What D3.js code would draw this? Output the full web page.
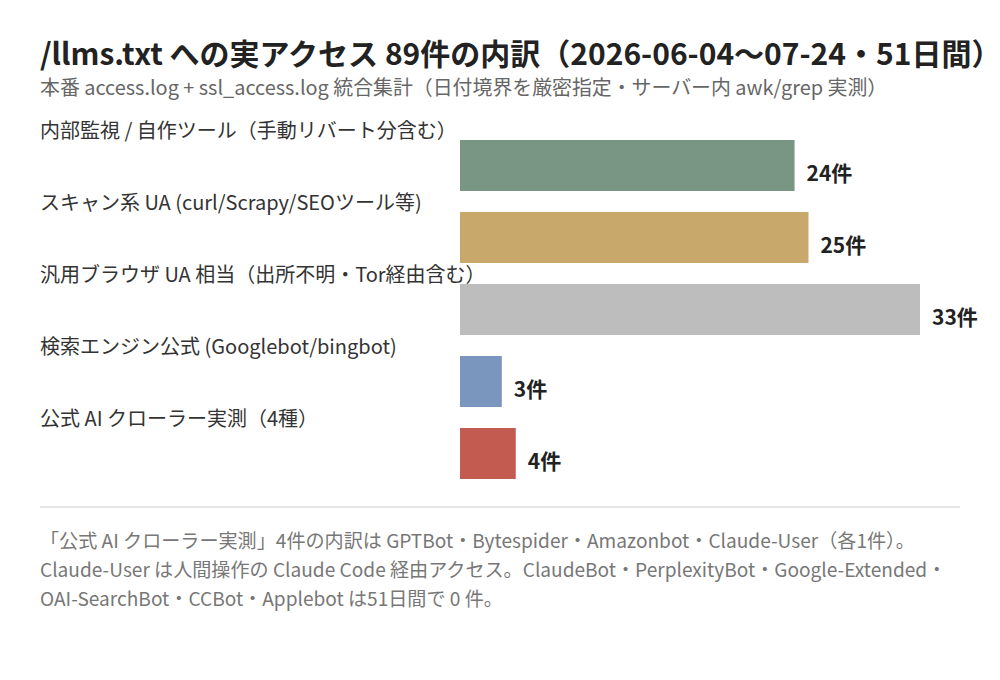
<!DOCTYPE html>
<html>
<head>
<meta charset="utf-8">
<script src="https://cdn.jsdelivr.net/npm/d3@7"></script>
<style>
  body { margin: 0; background: #fff; }
  svg text { font-family: "Noto Sans CJK JP", "Noto Sans", sans-serif; }
</style>
</head>
<body>
<div id="chart"></div>
<script>
// data
var categories = [
  "内部監視 / 自作ツール（手動リバート分含む）",
  "スキャン系 UA (curl/Scrapy/SEOツール等)",
  "汎用ブラウザ UA 相当（出所不明・Tor経由含む）",
  "検索エンジン公式 (Googlebot/bingbot)",
  "公式 AI クローラー実測（4種）"
];
var counts = [24, 25, 33, 3, 4];
var barColors = ["#789683", "#c8a96b", "#bdbdbd", "#7a96bf", "#c45b51"];
var valueSuffix = "件";

var title = "/llms.txt への実アクセス 89件の内訳（2026-06-04〜07-24・51日間）";
var subtitle = "本番 access.log + ssl_access.log 統合集計（日付境界を厳密指定・サーバー内 awk/grep 実測）";
var notes = [
  "「公式 AI クローラー実測」4件の内訳は GPTBot・Bytespider・Amazonbot・Claude-User（各1件）。",
  "Claude-User は人間操作の Claude Code 経由アクセス。ClaudeBot・PerplexityBot・Google-Extended・",
  "OAI-SearchBot・CCBot・Applebot は51日間で 0 件。"
];

var width = 1000, height = 680;

var svg = d3.select("#chart").append("svg")
  .attr("width", width)
  .attr("height", height);

// title + subtitle
svg.append("text")
  .attr("x", 40).attr("y", 65)
  .attr("font-size", 30).attr("font-weight", 700)
  .attr("fill", "#222")
  .text(title);

svg.append("text")
  .attr("x", 40).attr("y", 95)
  .attr("font-size", 19.9)
  .attr("fill", "#666")
  .text(subtitle);

// scales
var x = d3.scaleLinear()
  .domain([0, d3.max(counts)])
  .range([460, 920]);

var y = d3.scaleBand()
  .domain(categories)
  .range([119, 119 + 72 * categories.length])
  .padding(0);

var barTop = 21, barH = 51;

var rows = svg.selectAll(".row")
  .data(categories)
  .enter().append("g")
  .attr("class", "row")
  .attr("transform", function(d) { return "translate(0," + y(d) + ")"; });

rows.append("text")
  .attr("x", 40).attr("y", 19)
  .attr("font-size", 20)
  .attr("fill", "#333")
  .text(function(d) { return d; });

rows.append("rect")
  .attr("x", x(0))
  .attr("y", barTop)
  .attr("width", function(d, i) { return x(counts[i]) - x(0); })
  .attr("height", barH)
  .attr("fill", function(d, i) { return barColors[i]; });

rows.append("text")
  .attr("x", function(d, i) { return x(counts[i]) + 12; })
  .attr("y", barTop + 41)
  .attr("font-size", 21).attr("font-weight", 700)
  .attr("fill", "#222")
  .text(function(d, i) { return counts[i] + valueSuffix; });

// separator
svg.append("line")
  .attr("x1", 40).attr("x2", 960)
  .attr("y1", 507).attr("y2", 507)
  .attr("stroke", "#dddddd").attr("stroke-width", 1.5);

// notes
svg.selectAll(".note")
  .data(notes)
  .enter().append("text")
  .attr("class", "note")
  .attr("x", 40)
  .attr("y", function(d, i) { return 548 + i * 29; })
  .attr("font-size", 19.1)
  .attr("fill", "#777")
  .text(function(d) { return d; });
</script>
</body>
</html>
